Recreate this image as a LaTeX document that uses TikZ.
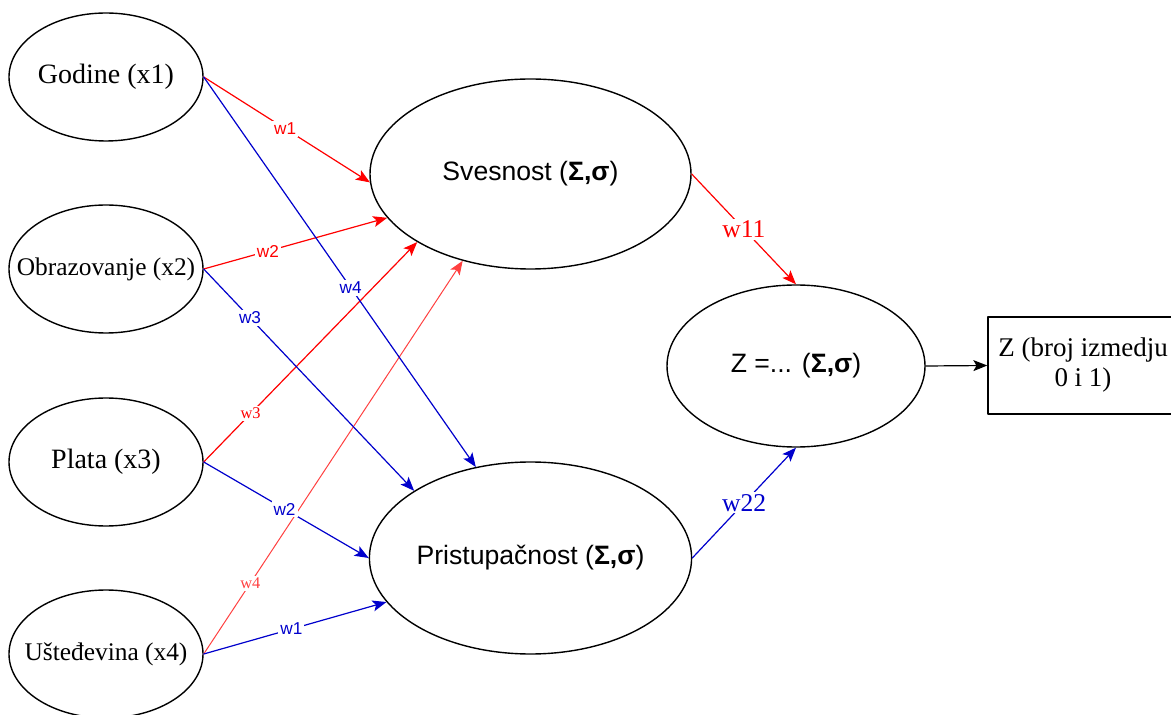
\documentclass[tikz,border=0pt]{standalone}
\usepackage{fontspec}
\setmainfont{Liberation Serif}
\setsansfont{Liberation Sans}
\usetikzlibrary{shapes.geometric,arrows.meta}
\definecolor{wred}{HTML}{FF0000}
\definecolor{wredlt}{HTML}{FF4040}
\definecolor{wblue}{HTML}{0000CC}

\begin{document}
\begin{tikzpicture}[x=0.5pt,y=-0.5pt,line cap=round,line join=round,
  >={Stealth[length=7pt,width=5.5pt,inset=1.6pt]},
  inp/.style={ellipse,draw,line width=0.7pt,inner sep=0pt,minimum width=97pt,minimum height=64pt},
  hid/.style={ellipse,draw,line width=0.7pt,inner sep=0pt,minimum width=160.5pt,minimum height=95pt,
    font=\sffamily\fontsize{13.3}{16}\selectfont},
  wt/.style={fill=white,inner sep=1pt,font=\sffamily\fontsize{8.6}{10}\selectfont},
  wts/.style={fill=white,inner sep=1pt,font=\fontsize{8.2}{10}\selectfont},
  wtb/.style={fill=white,inner sep=1pt,font=\fontsize{12.8}{14}\selectfont}]
  \useasboundingbox (0,0) rectangle (1171,715);
  \node[inp,font=\fontsize{14}{16}\selectfont] (god) at (106,77) {\makebox[0pt]{Godine (x1)}};
  \node[inp,font=\fontsize{12.7}{15}\selectfont] (obr) at (106,269) {\makebox[0pt]{Obrazovanje (x2)}};
  \node[inp,font=\fontsize{14}{16}\selectfont] (pla) at (106,462) {\makebox[0pt]{Plata (x3)}};
  \node[inp,font=\fontsize{12.7}{15}\selectfont] (ust) at (106,654) {\makebox[0pt]{Ušteđevina (x4)}};
  \node[hid] (sv) at (530.5,174) {Svesnost (\textbf{Σ,σ})};
  \node[hid,minimum height=96pt] (pri) at (530.5,558) {Pristupačnost (\textbf{Σ,σ})};
  \node[hid,minimum width=129pt,minimum height=81pt] (z) at (796,366) {Z =... (\textbf{Σ,σ})};
  \node[draw,line width=0.7pt,minimum width=95pt,minimum height=48.5pt,align=center,
    font=\fontsize{13.5}{15}\selectfont] (out) at (1083,365.5) {Z (broj izmedju\\0 i 1)};
  \foreach \a/\b/\l/\p in {god/sv.183/w1/0.49,obr/sv.197/w2/0.35}
    \draw[->,wred,line width=0.6pt] (\a.east) -- (\b) node[wt,pos=\p] {\l};
  \draw[->,wred,line width=0.6pt] (pla.east) -- (sv.211) node[wts,pos=0.22] {w3};
  \draw[->,wredlt,line width=0.5pt] (ust.east) -- (sv.232) node[wts,pos=0.18] {w4};
  \foreach \a/\b/\l/\p in {god/pri.121/w4/0.54,obr/pri.150/w3/0.22,pla/pri.180/w2/0.49,ust/pri.197/w1/0.48}
    \draw[->,wblue,line width=0.6pt] (\a.east) -- (\b) node[wt,pos=\p] {\l};
  \draw[->,wred,line width=0.6pt] (sv.east) -- (z.north) node[wtb,pos=0.5] {w11};
  \draw[->,wblue,line width=0.6pt] (pri.east) -- (z.south) node[wtb,pos=0.5] {w22};
  \draw[->,line width=0.6pt] (z.east) -- (out.west);
\end{tikzpicture}
\end{document}
